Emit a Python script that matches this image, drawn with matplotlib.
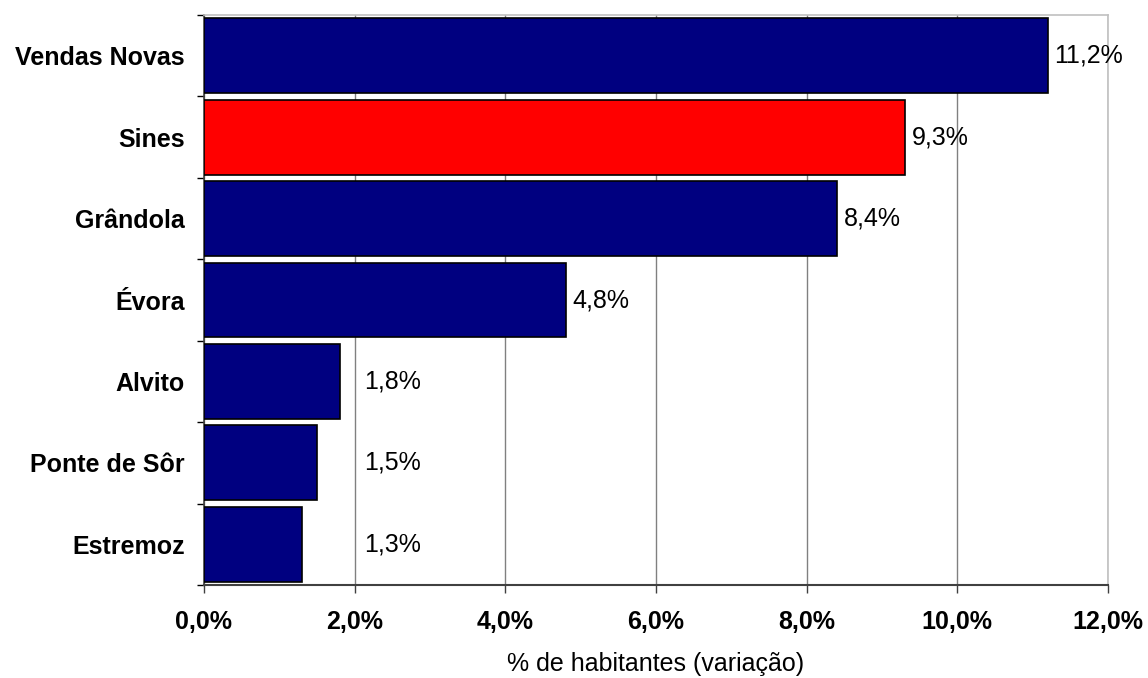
import matplotlib
matplotlib.use("Agg")
import matplotlib.pyplot as plt
from matplotlib.ticker import FuncFormatter

plt.rcParams['font.family'] = ['Liberation Sans', 'DejaVu Sans']

municipios = ["Vendas Novas", "Sines", "Grândola", "Évora", "Alvito", "Ponte de Sôr", "Estremoz"]
variacao = [11.2, 9.3, 8.4, 4.8, 1.8, 1.5, 1.3]
cores = ["#000080", "#FF0000", "#000080", "#000080", "#000080", "#000080", "#000080"]
xticks = [0, 2, 4, 6, 8, 10, 12]

FS = 18

fig = plt.figure(figsize=(11.48, 6.78), dpi=100)
ax = fig.add_axes([204 / 1148, 1 - 585 / 678, 904 / 1148, 570 / 678])

y = list(range(len(municipios)))
ax.barh(y, variacao, height=0.92, color=cores, edgecolor="black", linewidth=1.2, zorder=3)

ax.set_xlim(0, 12)
ax.set_ylim(len(municipios) - 0.5, -0.5)
ax.set_xticks(xticks)
ax.xaxis.set_major_formatter(FuncFormatter(lambda v, p: f"{v:.1f}%".replace(".", ",")))
ax.set_yticks(y)
ax.set_yticklabels(municipios, fontsize=FS, fontweight="bold")
for lbl in ax.get_xticklabels():
    lbl.set_fontsize(FS)
    lbl.set_fontweight("bold")

ax.grid(axis="x", color="#808080", linewidth=1, zorder=0)
ax.set_axisbelow(True)

# y-axis ticks sit between categories
ax.set_yticks([i - 0.5 for i in range(len(municipios) + 1)], minor=True)
ax.tick_params(axis="y", which="major", length=0, pad=14)
ax.tick_params(axis="y", which="minor", length=5, width=1, color="black", direction="out")
ax.tick_params(axis="x", length=6, width=1, color="#404040", direction="out", pad=12)

for side in ("top", "right"):
    ax.spines[side].set_color("#c0c0c0")
    ax.spines[side].set_linewidth(1.2)
ax.spines["left"].set_color("#404040")
ax.spines["bottom"].set_color("#404040")
ax.spines["left"].set_linewidth(1.2)
ax.spines["bottom"].set_linewidth(1.5)

for yi, v in zip(y, variacao):
    xpos = max(v + 0.09, 2.12)
    ax.text(xpos, yi, f"{v:.1f}%".replace(".", ","), va="center", ha="left",
            fontsize=FS, color="black", zorder=4)

ax.set_xlabel("% de habitantes (variação)", fontsize=FS, labelpad=13)

fig.savefig("out.png", dpi=100)
